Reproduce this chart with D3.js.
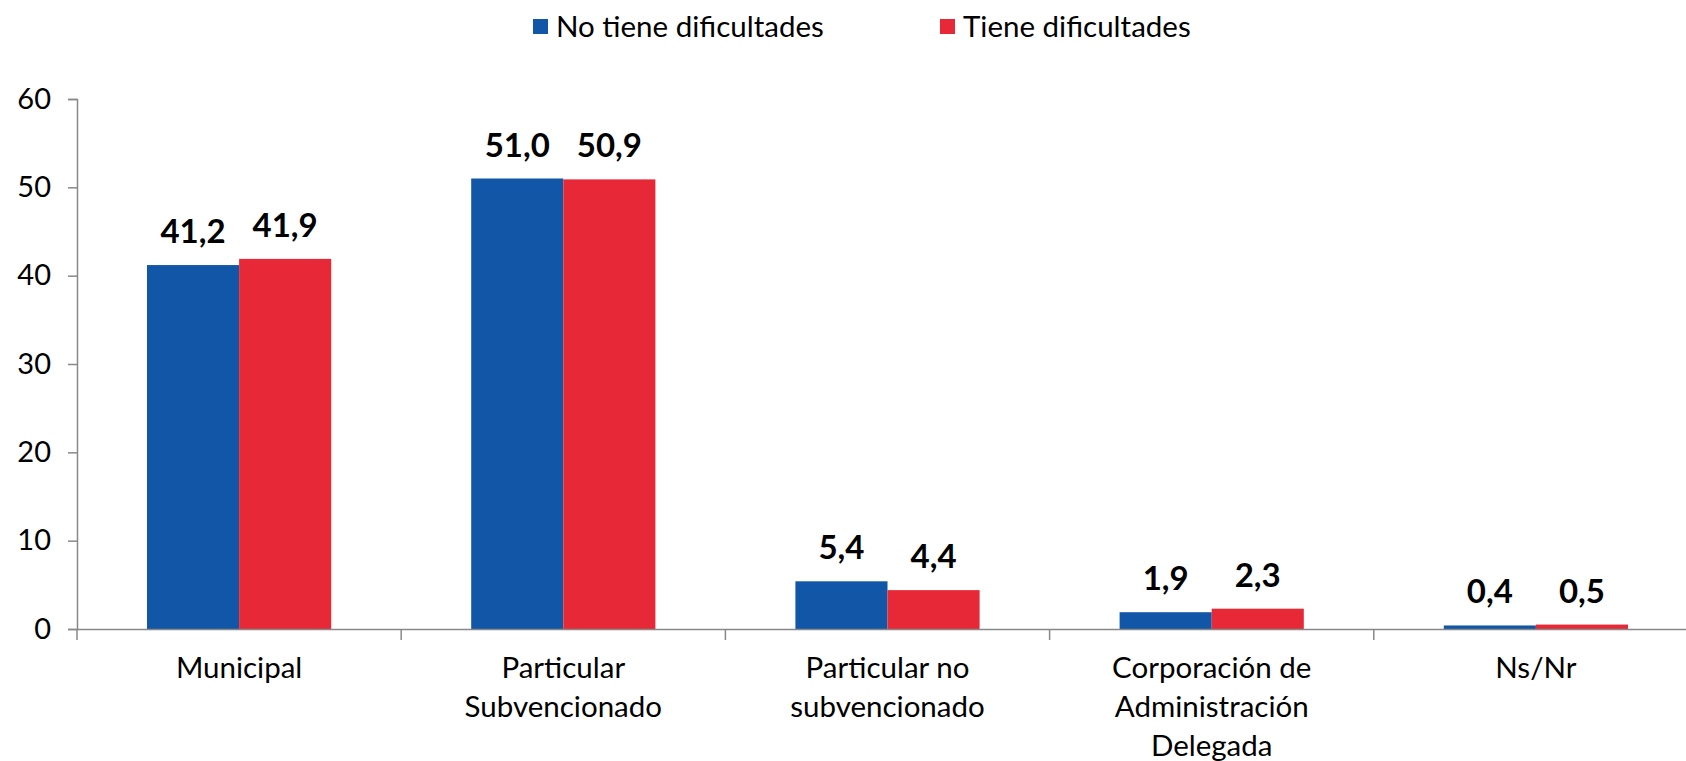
<!DOCTYPE html>
<html>
<head>
<meta charset="utf-8">
<script src="https://cdn.jsdelivr.net/npm/d3@7"></script>
<style>
  body { margin: 0; background: #fff; }
  svg { display: block; font-family: Lato, "Open Sans", sans-serif; }
</style>
</head>
<body>
<script>
const categories = ["Municipal", "Particular Subvencionado", "Particular no subvencionado", "Corporación de Administración Delegada", "Ns/Nr"]
// lineas de cada etiqueta del eje x
const categoryLines = [["Municipal"], ["Particular", "Subvencionado"], ["Particular no", "subvencionado"], ["Corporación de", "Administración", "Delegada"], ["Ns/Nr"]]
const series = ["No tiene dificultades", "Tiene dificultades"]
const noTiene = [41.2, 51.0, 5.4, 1.9, 0.4]
const tiene = [41.9, 50.9, 4.4, 2.3, 0.5]
const yTicks = [0, 10, 20, 30, 40, 50, 60]
const colors = ["#1156a7", "#e72836"]

const width = 1686, height = 761
let margin = { top: 99, left: 77, bottom: 132 }
let plotH = height - margin.top - margin.bottom

let svg = d3.select("body").append("svg")
    .attr("width", width)
    .attr("height", height)

let g = svg.append("g").attr("transform", "translate(" + margin.left + "," + margin.top + ")")

// el grafico original sale cortado a la derecha
let x0 = d3.scaleBand().domain(categories).range([0, 1621]).padding(0)
let x1 = d3.scaleBand().domain(series).range([0, x0.bandwidth()]).paddingInner(0).paddingOuter(0.76)
let y = d3.scaleLinear().domain([0, 60]).range([plotH, 0])

// barras
let data = [noTiene, tiene]
series.forEach((s, si) => {
    g.selectAll(".bar" + si)
        .data(categories)
        .enter().append("rect")
        .attr("x", c => x0(c) + x1(s))
        .attr("y", (c, i) => y(data[si][i]))
        .attr("width", x1.bandwidth())
        .attr("height", (c, i) => plotH - y(data[si][i]))
        .attr("fill", colors[si])
})

// eje y
let yAxis = g.append("g")
    .call(d3.axisLeft(y).tickValues(yTicks).tickSize(9).tickPadding(17))
yAxis.select(".domain").attr("stroke", "#888").attr("stroke-width", 1.5)
yAxis.selectAll(".tick line").attr("stroke", "#888").attr("stroke-width", 1.5)
yAxis.selectAll("text").attr("font-size", 29).attr("fill", "#000").attr("font-family", "Lato")

// eje x
let xAxis = g.append("g")
    .attr("transform", "translate(0," + plotH + ")")
    .call(d3.axisBottom(x0).tickSize(0).tickFormat(""))
xAxis.select(".domain").attr("stroke", "#888").attr("stroke-width", 1.5)
xAxis.selectAll(".tick").remove()
g.append("g").selectAll("line")
    .data(categories)
    .enter().append("line")
    .attr("x1", c => x0(c)).attr("x2", c => x0(c))
    .attr("y1", plotH).attr("y2", plotH + 11)
    .attr("stroke", "#888").attr("stroke-width", 1.5)

categories.forEach((c, i) => {
    let t = g.append("text")
        .attr("x", x0(c) + x0.bandwidth() / 2)
        .attr("y", plotH + 49)
        .attr("text-anchor", "middle")
        .attr("font-size", 29.5)
        .attr("fill", "#000")
    categoryLines[i].forEach((line, li) => {
        t.append("tspan")
            .attr("x", x0(c) + x0.bandwidth() / 2)
            .attr("dy", li == 0 ? 0 : 39)
            .text(line)
    })
})

// etiquetas de valores
let fmt = v => d3.format(".1f")(v).replace(".", ",")
series.forEach((s, si) => {
    g.selectAll(".lab" + si)
        .data(categories)
        .enter().append("text")
        .attr("x", c => x0(c) + x1(s) + x1.bandwidth() / 2)
        .attr("y", (c, i) => y(data[si][i]) - 22)
        .attr("text-anchor", "middle")
        .attr("font-size", 33)
        .attr("font-weight", "bold")
        .attr("fill", "#000")
        .text((c, i) => fmt(data[si][i]))
})

// leyenda
let legendX = [533, 940]
series.forEach((s, si) => {
    let lg = svg.append("g").attr("transform", "translate(" + legendX[si] + ",19)")
    lg.append("rect").attr("width", 15).attr("height", 15).attr("fill", colors[si])
    lg.append("text")
        .attr("x", 23).attr("y", 7.5)
        .attr("dy", "0.35em")
        .attr("font-size", 29.5)
        .attr("fill", "#000")
        .text(s)
})
</script>
</body>
</html>
